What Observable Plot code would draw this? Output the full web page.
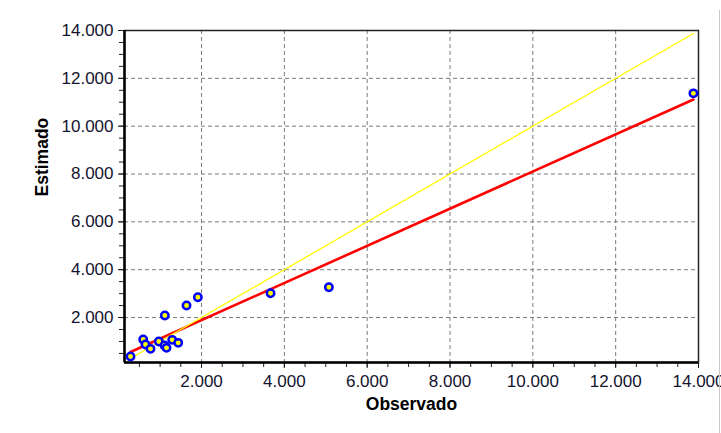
<!DOCTYPE html>
<html>
<head>
<meta charset="utf-8">
<script src="https://cdn.jsdelivr.net/npm/d3@7"></script>
<script src="https://cdn.jsdelivr.net/npm/@observablehq/plot@0.6"></script>
<style>
  html, body { margin: 0; padding: 0; background: #fff; }
  #chart { position: relative; width: 721px; height: 433px; overflow: hidden; }
  #edge { position: absolute; left: 719px; top: 10px; width: 1px; height: 423px; background: #c8c8c8; }
</style>
</head>
<body>
<div id="chart"><div id="edge"></div></div>
<script>
const observado = [285, 592, 647, 768, 969, 1106, 1155, 1114, 1292, 1437, 1638, 1911, 3667, 5075, 13877];
const estimado  = [370, 1080, 873, 690, 996, 828, 732, 2084, 1067, 941, 2502, 2849, 3017, 3268, 11372];

// Axis ticks
const majorTicks = [2000, 4000, 6000, 8000, 10000, 12000, 14000];
const minorTicks = d3.range(500, 14001, 500);
const xDomain = [140, 14000];
const yDomain = [120, 14000];

const points = observado.map((o, i) => ({obs: o, est: estimado[i]}));
const [minObs, maxObs] = d3.extent(observado);
const identity = [{obs: minObs, est: minObs}, {obs: maxObs, est: maxObs}];

const fmt = d => d.toLocaleString("de-DE");

const chart = Plot.plot({
  width: 721,
  height: 433,
  marginLeft: 124,
  marginTop: 30,
  marginRight: 23,
  marginBottom: 71,
  style: {fontFamily: "'Liberation Sans', Arial, sans-serif", fontSize: "17px", color: "#14142e", background: "#fff"},
  x: {domain: xDomain, label: null},
  y: {domain: yDomain, label: null},
  marks: [
    Plot.gridX(majorTicks, {stroke: "#7a7a7a", strokeOpacity: 1, strokeDasharray: "4,3", strokeWidth: 1}),
    Plot.gridY(majorTicks, {stroke: "#7a7a7a", strokeOpacity: 1, strokeDasharray: "4,3", strokeWidth: 1}),
    Plot.axisX(minorTicks, {tickSize: 5, tickFormat: () => "", label: null, stroke: "#222"}),
    Plot.axisY(minorTicks, {tickSize: 5, tickFormat: () => "", label: null, stroke: "#222"}),
    Plot.axisX(majorTicks, {tickSize: 6, tickPadding: 6, tickFormat: fmt, label: null, fontSize: 17, fill: "#14142e", stroke: "#222"}),
    Plot.axisY(majorTicks, {tickSize: 6, tickPadding: 5, tickFormat: fmt, label: null, fontSize: 17, fill: "#14142e", stroke: "#222"}),
    Plot.frame({stroke: "#222", strokeWidth: 1.5}),
    Plot.linearRegressionY(points, {x: "obs", y: "est", ci: 0, stroke: "#ff0000", strokeWidth: 2.6}),
    Plot.line(identity, {x: "obs", y: "est", stroke: "#ffff00", strokeWidth: 1.3}),
    Plot.dot(points, {x: "obs", y: "est", r: 3.7, fill: "#ffff00", stroke: "#0000ff", strokeWidth: 2.5}),
    Plot.ruleX([xDomain[0]], {stroke: "#000", strokeWidth: 2.5}),
    Plot.ruleY([yDomain[0]], {stroke: "#000", strokeWidth: 2.5}),
    Plot.text(["Observado"], {frameAnchor: "bottom", dy: 47, fontWeight: "bold", fontSize: 17.5, fill: "#000"}),
    Plot.text(["Estimado"], {frameAnchor: "left", dx: -82, rotate: -90, fontWeight: "bold", fontSize: 17.5, fill: "#000"})
  ]
});
document.getElementById("chart").prepend(chart);
</script>
</body>
</html>
